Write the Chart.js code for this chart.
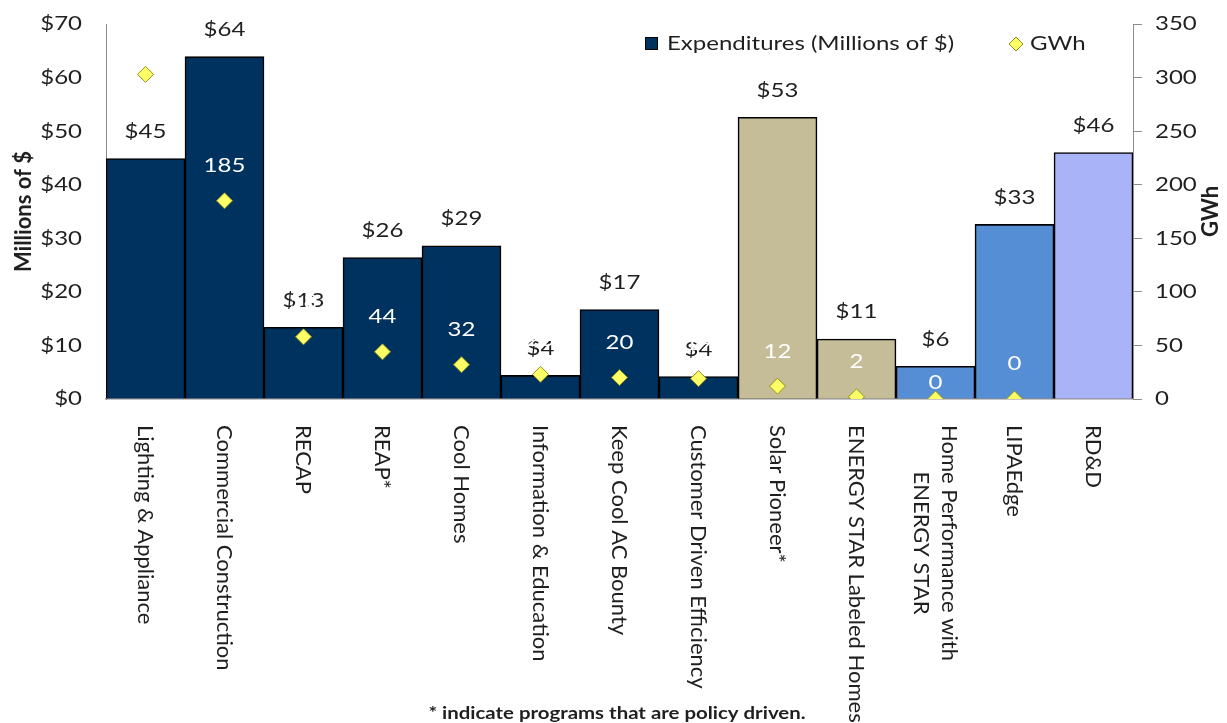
<!DOCTYPE html>
<html>
<head>
<meta charset="utf-8">
<title>Program Expenditures and GWh</title>
<script src="https://cdn.jsdelivr.net/npm/chart.js@4.4.1/dist/chart.umd.min.js"></script>
<style>
  html, body { margin: 0; padding: 0; background: #ffffff; }
  canvas { display: block; }
</style>
</head>
<body>
<canvas id="chart" width="1227" height="723"></canvas>
<script>
// Programs along the category axis
const categories = [
  'Lighting & Appliance',
  'Commercial Construction',
  'RECAP',
  'REAP*',
  'Cool Homes',
  'Information & Education',
  'Keep Cool AC Bounty',
  'Customer Driven Efficiency',
  'Solar Pioneer*',
  'ENERGY STAR Labeled Homes',
  ['Home Performance with', 'ENERGY STAR'],
  'LIPAEdge',
  'RD&D'
];

// Expenditures, millions of dollars (left axis)
const expenditures = [44.9, 63.9, 13.4, 26.4, 28.6, 4.4, 16.7, 4.2, 52.6, 11.2, 6.1, 32.6, 46.0];

// Energy savings, GWh (right axis); RD&D has no savings figure
const gwh = [303, 185, 58, 44, 32, 23, 20, 19, 12, 2, 0, 0, null];

// Left and right axis ranges
const dollarAxis = { min: 0, max: 70, step: 10 };
const gwhAxis = { min: 0, max: 350, step: 50 };

// Program group colours
const NAVY = '#00325f';
const TAN = '#c4bd97';
const BLUE = '#558ed5';
const LAVENDER = '#a9b3f7';
const barColors = [NAVY, NAVY, NAVY, NAVY, NAVY, NAVY, NAVY, NAVY, TAN, TAN, BLUE, BLUE, LAVENDER];

const FONT = 'Lato, "Open Sans", sans-serif';
const TEXT = '#1f1f1f';
const AXIS = '#8c8c8c';
const DIAMOND_FILL = '#ffff66';
const DIAMOND_EDGE = '#8f8f1f';
const WIDE = 1.2; // horizontal stretch of the lettering

// horizontal text, drawn a little wide
function wideText(ctx, text, x, y, align, font, color) {
  ctx.save();
  ctx.font = font;
  ctx.fillStyle = color;
  ctx.textAlign = align;
  ctx.textBaseline = 'middle';
  ctx.translate(x, y);
  ctx.scale(WIDE, 1);
  ctx.fillText(text, 0, 0);
  ctx.restore();
}

function drawDiamond(ctx, x, y, r) {
  ctx.beginPath();
  ctx.moveTo(x, y - r);
  ctx.lineTo(x + r, y);
  ctx.lineTo(x, y + r);
  ctx.lineTo(x - r, y);
  ctx.closePath();
  ctx.fillStyle = DIAMOND_FILL;
  ctx.fill();
  ctx.lineWidth = 1;
  ctx.strokeStyle = DIAMOND_EDGE;
  ctx.stroke();
}

const annotations = {
  id: 'annotations',
  // value labels are drawn right after the bars, beneath the diamonds
  afterDatasetDraw(chart, args) {
    if (args.index !== 0) return;
    const ctx = chart.ctx;
    const bars = chart.getDatasetMeta(0).data;
    const points = chart.getDatasetMeta(1).data;
    const f = '20px ' + FONT;
    bars.forEach((bar, i) => {
      wideText(ctx, '$' + Math.round(expenditures[i]), bar.x, bar.y - 27, 'center', f, TEXT);
    });
    // GWh values in white, above each diamond
    points.forEach((pt, i) => {
      if (gwh[i] === null || gwh[i] === undefined) return;
      const top = bars[i].y;
      let y = pt.y - 35;
      if (y - 10 < top && y + 10 > top && pt.y > top) y = top + 16;
      wideText(ctx, String(gwh[i]), pt.x, y, 'center', f, '#ffffff');
    });
  },
  afterDraw(chart) {
    const ctx = chart.ctx;
    const xs = chart.scales.x;
    const ys = chart.scales.y;
    const ys1 = chart.scales.y1;
    const area = chart.chartArea;
    const f = '20px ' + FONT;

    // tick labels on both value axes
    for (let v = dollarAxis.min; v <= dollarAxis.max; v += dollarAxis.step) {
      wideText(ctx, '$' + v, 82, ys.getPixelForValue(v), 'right', f, TEXT);
    }
    for (let v = gwhAxis.min; v <= gwhAxis.max; v += gwhAxis.step) {
      wideText(ctx, String(v), 1155, ys1.getPixelForValue(v), 'left', f, TEXT);
    }

    ctx.save();
    // category labels, turned to read downward
    ctx.font = '22px ' + FONT;
    ctx.fillStyle = TEXT;
    ctx.textBaseline = 'middle';
    categories.forEach((label, i) => {
      const lines = Array.isArray(label) ? label : [label];
      const x = xs.getPixelForValue(i);
      const widths = lines.map(l => ctx.measureText(l).width);
      const maxW = Math.max(...widths);
      const lh = 28;
      ctx.save();
      ctx.translate(x, area.bottom + 26);
      ctx.rotate(Math.PI / 2);
      lines.forEach((line, k) => {
        const dy = (k - (lines.length - 1) / 2) * lh;
        ctx.textAlign = 'left';
        ctx.fillText(line, (maxW - widths[k]) / 2, dy);
      });
      ctx.restore();
    });

    // axis titles
    ctx.font = 'bold 22px ' + FONT;
    ctx.textAlign = 'center';
    ctx.save();
    ctx.translate(24, (area.top + area.bottom) / 2);
    ctx.rotate(-Math.PI / 2);
    ctx.fillText('Millions of $', 0, 0);
    ctx.restore();
    ctx.save();
    ctx.translate(1211, (area.top + area.bottom) / 2);
    ctx.rotate(-Math.PI / 2);
    ctx.fillText('GWh', 0, 0);
    ctx.restore();

    // legend
    ctx.fillStyle = NAVY;
    ctx.fillRect(645, 37, 13, 13);
    ctx.lineWidth = 1;
    ctx.strokeStyle = '#000000';
    ctx.strokeRect(645.5, 37.5, 12, 12);
    ctx.restore();
    wideText(ctx, 'Expenditures (Millions of $)', 667, 44, 'left', f, TEXT);
    drawDiamond(ctx, 1016, 44, 7);
    wideText(ctx, 'GWh', 1030, 44, 'left', f, TEXT);

    // footnote
    wideText(ctx, '* indicate programs that are policy driven.', 617, 714, 'center', 'bold 17px ' + FONT, TEXT);
  }
};

new Chart(document.getElementById('chart'), {
  data: {
    labels: categories,
    datasets: [
      {
        type: 'bar',
        label: 'Expenditures (Millions of $)',
        data: expenditures,
        yAxisID: 'y',
        backgroundColor: barColors,
        borderColor: '#000000',
        borderWidth: 1.6,
        barPercentage: 1,
        categoryPercentage: 1,
        order: 2
      },
      {
        type: 'line',
        label: 'GWh',
        data: gwh,
        yAxisID: 'y1',
        showLine: false,
        pointStyle: 'rectRot',
        pointRadius: 8,
        pointBackgroundColor: DIAMOND_FILL,
        pointBorderColor: DIAMOND_EDGE,
        pointBorderWidth: 1,
        order: 1
      }
    ]
  },
  options: {
    responsive: false,
    animation: false,
    layout: { padding: { top: 24, left: 0, right: 0, bottom: 0 } },
    plugins: {
      legend: { display: false },
      tooltip: { enabled: false }
    },
    scales: {
      x: {
        type: 'category',
        offset: true,
        grid: { display: false },
        border: { display: true, color: AXIS, width: 1.5 },
        ticks: { display: false },
        afterFit(scale) { scale.height = 324; }
      },
      y: {
        position: 'left',
        min: dollarAxis.min,
        max: dollarAxis.max,
        grid: { display: true, drawOnChartArea: false, drawTicks: false },
        border: { display: true, color: AXIS, width: 1 },
        ticks: { stepSize: dollarAxis.step, display: false },
        afterFit(scale) { scale.width = 106; }
      },
      y1: {
        position: 'right',
        min: gwhAxis.min,
        max: gwhAxis.max,
        grid: { display: true, drawOnChartArea: false, drawTicks: true, tickLength: 9, color: AXIS },
        border: { display: true, color: AXIS, width: 1 },
        ticks: { stepSize: gwhAxis.step, display: false },
        afterFit(scale) { scale.width = 94; }
      }
    }
  },
  plugins: [annotations]
});
</script>
</body>
</html>
